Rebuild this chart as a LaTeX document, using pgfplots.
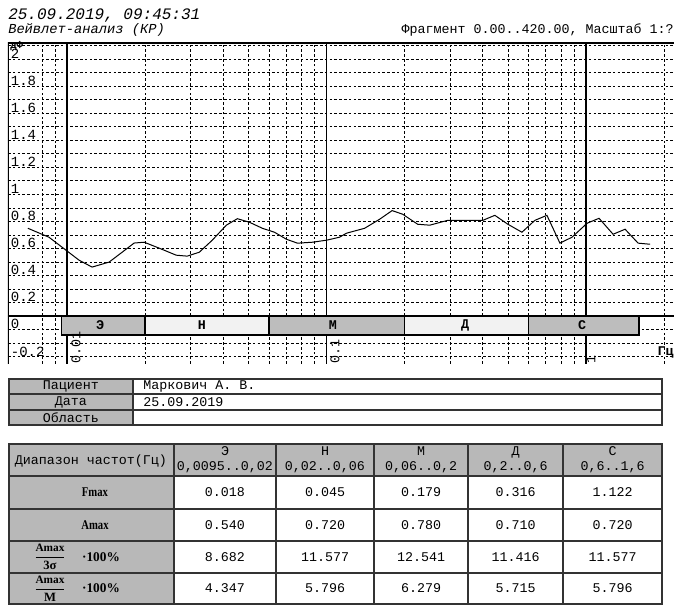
\documentclass[border=0pt]{standalone}
\usepackage{fontspec}
\setmainfont{Liberation Mono}
\newfontfamily\serif{Liberation Serif}
\usepackage{amsmath}
\usepackage{pgfplots}
\pgfplotsset{compat=1.18}
\definecolor{cellgray}{gray}{0.72}
\definecolor{banddense}{gray}{0.74}
\definecolor{bandsparse}{gray}{0.95}
\begin{document}
\begin{tikzpicture}
\useasboundingbox (0,0) rectangle (505.5pt,-453.75pt);
\begin{axis}[
  at={(6pt,-273pt)}, anchor=south west,
  scale only axis, width=499.5pt, height=240.75pt,
  xmode=log, xmin=0.005923, xmax=2.183, ymin=-0.355, ymax=2.02,
  axis line style={draw=none},
  xtick={0.01,0.1,1}, xticklabels={},
  minor xtick={0.008,0.009,0.02,0.03,0.04,0.05,0.06,0.07,0.08,0.09,0.2,0.3,0.4,0.5,0.6,0.7,0.8,0.9,2},
  ytick={-0.2,0,0.2,0.4,0.6,0.8,1,1.2,1.4,1.6,1.8,2},
  yticklabels={-0.2,0,0.2,0.4,0.6,0.8,1,1.2,1.4,1.6,1.8,2},
  minor ytick={-0.3,-0.1,0.1,0.3,0.5,0.7,0.9,1.1,1.3,1.5,1.7,1.9},
  xmajorgrids, xminorgrids, ymajorgrids, yminorgrids,
  major x grid style={black, line width=0.8pt, solid},
  minor x grid style={black, line width=0.55pt, dash pattern=on 2pt off 1.6pt},
  major y grid style={black, line width=0.55pt, dash pattern=on 2pt off 1.6pt},
  minor y grid style={black, line width=0.55pt, dash pattern=on 2pt off 1.6pt},
  major tick length=0pt, minor tick length=0pt,
  yticklabel style={anchor=north west, inner sep=0pt, xshift=2pt, yshift=-2.5pt, font=\fontsize{10.5}{12}\selectfont},
]
\draw[black, line width=0.9pt] (rel axis cs:0,0) -- (rel axis cs:0,1) -- (rel axis cs:1,1);
\addplot[black, line width=1pt, forget plot] coordinates {(0.005923,0) (2.183,0)};
% frequency bands
\addplot[draw=black, line width=1pt, fill=banddense] coordinates {(0.0095,0) (0.02,0) (0.02,-0.14) (0.0095,-0.14)} --cycle;
\addplot[draw=black, line width=1pt, fill=bandsparse] coordinates {(0.02,0) (0.06,0) (0.06,-0.14) (0.02,-0.14)} --cycle;
\addplot[draw=black, line width=1pt, fill=banddense] coordinates {(0.06,0) (0.2,0) (0.2,-0.14) (0.06,-0.14)} --cycle;
\addplot[draw=black, line width=1pt, fill=bandsparse] coordinates {(0.2,0) (0.6,0) (0.6,-0.14) (0.2,-0.14)} --cycle;
\addplot[draw=black, line width=1pt, fill=banddense] coordinates {(0.6,0) (1.6,0) (1.6,-0.14) (0.6,-0.14)} --cycle;
\node[font=\bfseries\fontsize{10}{12}\selectfont, inner sep=0] at (axis cs:0.0134,-0.07) {Э};
\node[font=\bfseries\fontsize{10}{12}\selectfont, inner sep=0] at (axis cs:0.0331,-0.07) {Н};
\node[font=\bfseries\fontsize{10}{12}\selectfont, inner sep=0] at (axis cs:0.1059,-0.07) {М};
\node[font=\bfseries\fontsize{10}{12}\selectfont, inner sep=0] at (axis cs:0.3418,-0.07) {Д};
\node[font=\bfseries\fontsize{10}{12}\selectfont, inner sep=0] at (axis cs:0.9651,-0.07) {С};
% rotated frequency labels
\node[rotate=90, anchor=west, inner sep=0.5pt, font=\fontsize{10}{12}\selectfont] at (axis cs:0.01083,-0.355) {0.01};
\node[rotate=90, anchor=west, inner sep=0.5pt, font=\fontsize{10}{12}\selectfont] at (axis cs:0.1079,-0.355) {0.1};
\node[rotate=90, anchor=west, inner sep=0.5pt, font=\fontsize{10}{12}\selectfont] at (axis cs:1.045,-0.355) {1};
% spectrum
\addplot[black, line width=0.75pt, mark=none] coordinates {
(0.00707,0.649) (0.00852,0.583) (0.00991,0.487) (0.01113,0.413) (0.01249,0.362)
(0.01453,0.399) (0.01631,0.472) (0.01815,0.540) (0.01983,0.546) (0.02266,0.502)
(0.02635,0.450) (0.02905,0.443) (0.03234,0.472) (0.03629,0.561) (0.04111,0.672)
(0.04533,0.720) (0.05043,0.694) (0.05661,0.649) (0.06300,0.620) (0.07008,0.568)
(0.07727,0.539) (0.08830,0.546) (0.1000,0.561) (0.1122,0.583) (0.1195,0.613)
(0.1402,0.649) (0.1602,0.716) (0.1790,0.780) (0.1966,0.753) (0.2245,0.679)
(0.2499,0.672) (0.2932,0.708) (0.3350,0.708) (0.4003,0.708) (0.4453,0.745)
(0.4998,0.679) (0.5663,0.620) (0.6356,0.708) (0.7070,0.745) (0.7935,0.539)
(0.8829,0.583) (1.009,0.686) (1.1225,0.723) (1.2716,0.605) (1.4147,0.642)
(1.588,0.539) (1.766,0.531)};
\end{axis}
\begin{scope}[x=0.75pt,y=-0.75pt]
% header texts
\node[anchor=base west, inner sep=0, font=\itshape\fontsize{12}{14}\selectfont] at (8,20) {25.09.2019, 09:45:31};
\node[anchor=base west, inner sep=0, font=\itshape\fontsize{10.3}{12}\selectfont] at (8,34) {Вейвлет-анализ (КР)};
\node[anchor=base east, inner sep=0, font=\fontsize{10}{12}\selectfont] at (674,34) {Фрагмент 0.00..420.00, Масштаб 1:?};
\node[anchor=north west, inner sep=0, font=\bfseries\fontsize{8}{9}\selectfont] at (10,41) {дФ};
\node[anchor=east, inner sep=0, font=\bfseries\fontsize{10}{12}\selectfont] at (674,352) {Гц};

% ---- table 1 ----
\fill[cellgray] (9,379) rectangle (133,425);
\draw[line width=0.9pt, black!80] (9,379) rectangle (662,425);
\draw[line width=0.9pt, black!80] (9,394) -- (662,394) (9,410) -- (662,410) (133,379) -- (133,425);
\begin{scope}[every node/.style={inner sep=0, font=\fontsize{10}{12}\selectfont}]
\node at (71,386.5) {Пациент};
\node at (71,402) {Дата};
\node at (71,417.5) {Область};
\node[anchor=west] at (143,386.5) {Маркович А. В.};
\node[anchor=west] at (143,402) {25.09.2019};
\end{scope}

% ---- table 2 ----
\fill[cellgray] (9,444) rectangle (174,604);
\fill[cellgray] (174,444) rectangle (662,476);
\draw[line width=0.9pt, black!80] (9,444) rectangle (662,604);
\draw[line width=0.9pt, black!80] (9,476) -- (662,476) (9,509) -- (662,509) (9,541) -- (662,541) (9,573) -- (662,573);
\draw[line width=0.9pt, black!80] (174,444) -- (174,604) (276,444) -- (276,604) (374,444) -- (374,604) (468,444) -- (468,604) (563,444) -- (563,604);
\begin{scope}[every node/.style={inner sep=0, font=\fontsize{10}{11.5}\selectfont, align=center}]
\node at (91,461) {Диапазон частот(Гц)};
\node at (225,460) {Э\\0,0095..0,02};
\node at (325,460) {Н\\0,02..0,06};
\node at (421,460) {М\\0,06..0,2};
\node at (515.5,460) {Д\\0,2..0,6};
\node at (612.5,460) {С\\0,6..1,6};
\node at (225,492.5) {0.018};
\node at (325,492.5) {0.045};
\node at (421,492.5) {0.179};
\node at (515.5,492.5) {0.316};
\node at (612.5,492.5) {1.122};
\node at (225,525) {0.540};
\node at (325,525) {0.720};
\node at (421,525) {0.780};
\node at (515.5,525) {0.710};
\node at (612.5,525) {0.720};
\node at (225,557) {8.682};
\node at (325,557) {11.577};
\node at (421,557) {12.541};
\node at (515.5,557) {11.416};
\node at (612.5,557) {11.577};
\node at (225,588.5) {4.347};
\node at (325,588.5) {5.796};
\node at (421,588.5) {6.279};
\node at (515.5,588.5) {5.715};
\node at (612.5,588.5) {5.796};
\end{scope}
\begin{scope}[every node/.style={inner sep=0, font=\serif\bfseries\fontsize{10}{11}\selectfont}]
\node at (95,492.5) {\scalebox{0.8}[1]{Fmax}};
\node at (95,525) {\scalebox{0.8}[1]{Amax}};
\node at (50,557) {$\dfrac{\text{\serif\bfseries\fontsize{8.5}{9}\selectfont Amax}}{\text{\serif\bfseries\fontsize{9.5}{10}\selectfont 3σ}}$};
\node at (101,557) {·100\%};
\node at (50,588.5) {$\dfrac{\text{\serif\bfseries\fontsize{8.5}{9}\selectfont Amax}}{\text{\serif\bfseries\fontsize{9.5}{10}\selectfont M}}$};
\node at (101,588.5) {·100\%};
\end{scope}
\end{scope}
\end{tikzpicture}
\end{document}
